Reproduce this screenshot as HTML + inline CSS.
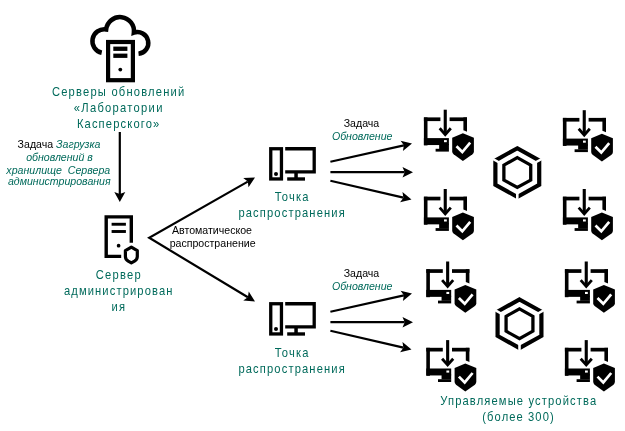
<!DOCTYPE html>
<html><head><meta charset="utf-8"><style>
html,body{margin:0;padding:0;background:#fff;}
body{width:625px;height:431px;overflow:hidden;}
svg{display:block;will-change:transform;}
text{font-family:"Liberation Sans",sans-serif;}
</style></head><body>
<svg width="625" height="431" viewBox="0 0 625 431">
<rect width="625" height="431" fill="#fff"/>
<path d="M101.72,52.80 A11.9,11.9 0 0 1 106.16,29.43 A13.95,13.95 0 0 1 133.87,32.69 A10.9,10.9 0 1 1 138.54,53.84" fill="none" stroke="#000" stroke-width="4.5" stroke-linejoin="miter"/><rect x="108.1" y="42" width="24.8" height="38.2" fill="none" stroke="#000" stroke-width="4.2"/><rect x="113.3" y="46.6" width="14.1" height="4.3" fill="#000"/><rect x="113.3" y="53.6" width="14.1" height="4.3" fill="#000"/><circle cx="120.3" cy="69.6" r="1.9" fill="#000"/><path d="M131.3,242.7 V216.9 H106.2 V256.35 H121.2" fill="none" stroke="#000" stroke-width="3.4"/><rect x="111.6" y="222.8" width="14.3" height="2.9" fill="#000"/><rect x="111.6" y="230.05" width="14.3" height="2.9" fill="#000"/><circle cx="118.6" cy="245.7" r="1.85" fill="#000"/><path d="M131.35,247.1 L137.3,250.6 V256.5 Q137.3,259.5 134.5,261.2 L131.35,262.9 L128.2,261.2 Q125.4,259.5 125.4,256.5 V250.6 Z" fill="none" stroke="#000" stroke-width="3.2" stroke-linejoin="round"/><line x1="119.8" y1="132" x2="119.80" y2="194.00" stroke="#000" stroke-width="2.2"/><polygon points="119.80,202.00 114.30,192.00 119.80,194.00 125.30,192.00" fill="#000"/><polyline points="247.79,181.61 149.2,237.8 247.89,297.22" fill="none" stroke="#000" stroke-width="2.2" stroke-miterlimit="10"/><polygon points="255.00,177.50 248.50,187.30 247.79,181.61 243.25,178.09" fill="#000"/><polygon points="255.00,301.50 243.27,300.62 247.89,297.22 248.74,291.54" fill="#000"/><line x1="330.4" y1="161.8" x2="403.90" y2="145.32" stroke="#000" stroke-width="2.2"/><polygon points="412.00,143.50 402.91,150.97 403.90,145.32 400.59,140.63" fill="#000"/><line x1="330.4" y1="172.2" x2="404.70" y2="172.20" stroke="#000" stroke-width="2.2"/><polygon points="413.00,172.20 402.50,177.50 404.70,172.20 402.50,166.90" fill="#000"/><line x1="330.4" y1="180.8" x2="403.41" y2="197.64" stroke="#000" stroke-width="2.2"/><polygon points="411.50,199.50 400.08,202.31 403.41,197.64 402.46,191.98" fill="#000"/><line x1="330.4" y1="311.8" x2="403.90" y2="295.32" stroke="#000" stroke-width="2.2"/><polygon points="412.00,293.50 402.91,300.97 403.90,295.32 400.59,290.63" fill="#000"/><line x1="330.4" y1="322.2" x2="404.70" y2="322.20" stroke="#000" stroke-width="2.2"/><polygon points="413.00,322.20 402.50,327.50 404.70,322.20 402.50,316.90" fill="#000"/><line x1="330.4" y1="330.8" x2="403.41" y2="347.64" stroke="#000" stroke-width="2.2"/><polygon points="411.50,349.50 400.08,352.31 403.41,347.64 402.46,341.98" fill="#000"/><g transform="translate(0.0,0.0)"><rect x="270.75" y="148.75" width="10.7" height="30.2" fill="none" stroke="#000" stroke-width="3.3"/><circle cx="276" cy="174" r="2" fill="#000"/><path d="M285.2,148.75 H314.2 V171.9 H285.2" fill="none" stroke="#000" stroke-width="3.3"/><rect x="294.3" y="173" width="3.5" height="5" fill="#000"/><rect x="287.2" y="177.3" width="17.8" height="3.35" fill="#000"/></g><g transform="translate(0.0,155.00000000000003)"><rect x="270.75" y="148.75" width="10.7" height="30.2" fill="none" stroke="#000" stroke-width="3.3"/><circle cx="276" cy="174" r="2" fill="#000"/><path d="M285.2,148.75 H314.2 V171.9 H285.2" fill="none" stroke="#000" stroke-width="3.3"/><rect x="294.3" y="173" width="3.5" height="5" fill="#000"/><rect x="287.2" y="177.3" width="17.8" height="3.35" fill="#000"/></g><g transform="translate(0.0,0.0)"><rect x="443.7" y="109.7" width="3.1" height="24" fill="#000"/><polyline points="439.7,128.3 445.25,134.6 450.8,128.3" fill="none" stroke="#000" stroke-width="2.8"/><rect x="423.9" y="117.4" width="16.5" height="3.7" fill="#000"/><rect x="449.6" y="117.4" width="17.4" height="3.7" fill="#000"/><rect x="423.9" y="117.4" width="3.6" height="28" fill="#000"/><rect x="463.4" y="117.4" width="3.6" height="20" fill="#000"/><rect x="423.9" y="138.1" width="25" height="6.95" fill="#000"/><rect x="439.15" y="144" width="9.75" height="5" fill="#000"/><rect x="435.6" y="148.8" width="13.3" height="2.8" fill="#000"/><rect x="444" y="140.1" width="2.8" height="2.1" fill="#fff"/><path d="M462.9,133.2 L473.9,137.7 V151.4 Q473.9,153 472.5,154.3 L462.9,161 L453.6,154.3 Q452.2,153 452.2,151.4 V137.7 Z" fill="#000" stroke="#fff" stroke-width="6" paint-order="stroke" stroke-linejoin="round"/><polyline points="456.5,146.2 462.3,152.0 470.2,142.6" fill="none" stroke="#fff" stroke-width="2.7"/></g><g transform="translate(139.0,0.5)"><rect x="443.7" y="109.7" width="3.1" height="24" fill="#000"/><polyline points="439.7,128.3 445.25,134.6 450.8,128.3" fill="none" stroke="#000" stroke-width="2.8"/><rect x="423.9" y="117.4" width="16.5" height="3.7" fill="#000"/><rect x="449.6" y="117.4" width="17.4" height="3.7" fill="#000"/><rect x="423.9" y="117.4" width="3.6" height="28" fill="#000"/><rect x="463.4" y="117.4" width="3.6" height="20" fill="#000"/><rect x="423.9" y="138.1" width="25" height="6.95" fill="#000"/><rect x="439.15" y="144" width="9.75" height="5" fill="#000"/><rect x="435.6" y="148.8" width="13.3" height="2.8" fill="#000"/><rect x="444" y="140.1" width="2.8" height="2.1" fill="#fff"/><path d="M462.9,133.2 L473.9,137.7 V151.4 Q473.9,153 472.5,154.3 L462.9,161 L453.6,154.3 Q452.2,153 452.2,151.4 V137.7 Z" fill="#000" stroke="#fff" stroke-width="6" paint-order="stroke" stroke-linejoin="round"/><polyline points="456.5,146.2 462.3,152.0 470.2,142.6" fill="none" stroke="#fff" stroke-width="2.7"/></g><g transform="translate(0.0,79.3)"><rect x="443.7" y="109.7" width="3.1" height="24" fill="#000"/><polyline points="439.7,128.3 445.25,134.6 450.8,128.3" fill="none" stroke="#000" stroke-width="2.8"/><rect x="423.9" y="117.4" width="16.5" height="3.7" fill="#000"/><rect x="449.6" y="117.4" width="17.4" height="3.7" fill="#000"/><rect x="423.9" y="117.4" width="3.6" height="28" fill="#000"/><rect x="463.4" y="117.4" width="3.6" height="20" fill="#000"/><rect x="423.9" y="138.1" width="25" height="6.95" fill="#000"/><rect x="439.15" y="144" width="9.75" height="5" fill="#000"/><rect x="435.6" y="148.8" width="13.3" height="2.8" fill="#000"/><rect x="444" y="140.1" width="2.8" height="2.1" fill="#fff"/><path d="M462.9,133.2 L473.9,137.7 V151.4 Q473.9,153 472.5,154.3 L462.9,161 L453.6,154.3 Q452.2,153 452.2,151.4 V137.7 Z" fill="#000" stroke="#fff" stroke-width="6" paint-order="stroke" stroke-linejoin="round"/><polyline points="456.5,146.2 462.3,152.0 470.2,142.6" fill="none" stroke="#fff" stroke-width="2.7"/></g><g transform="translate(139.0,79.3)"><rect x="443.7" y="109.7" width="3.1" height="24" fill="#000"/><polyline points="439.7,128.3 445.25,134.6 450.8,128.3" fill="none" stroke="#000" stroke-width="2.8"/><rect x="423.9" y="117.4" width="16.5" height="3.7" fill="#000"/><rect x="449.6" y="117.4" width="17.4" height="3.7" fill="#000"/><rect x="423.9" y="117.4" width="3.6" height="28" fill="#000"/><rect x="463.4" y="117.4" width="3.6" height="20" fill="#000"/><rect x="423.9" y="138.1" width="25" height="6.95" fill="#000"/><rect x="439.15" y="144" width="9.75" height="5" fill="#000"/><rect x="435.6" y="148.8" width="13.3" height="2.8" fill="#000"/><rect x="444" y="140.1" width="2.8" height="2.1" fill="#fff"/><path d="M462.9,133.2 L473.9,137.7 V151.4 Q473.9,153 472.5,154.3 L462.9,161 L453.6,154.3 Q452.2,153 452.2,151.4 V137.7 Z" fill="#000" stroke="#fff" stroke-width="6" paint-order="stroke" stroke-linejoin="round"/><polyline points="456.5,146.2 462.3,152.0 470.2,142.6" fill="none" stroke="#fff" stroke-width="2.7"/></g><g transform="translate(2.400000000000034,151.8)"><rect x="443.7" y="109.7" width="3.1" height="24" fill="#000"/><polyline points="439.7,128.3 445.25,134.6 450.8,128.3" fill="none" stroke="#000" stroke-width="2.8"/><rect x="423.9" y="117.4" width="16.5" height="3.7" fill="#000"/><rect x="449.6" y="117.4" width="17.4" height="3.7" fill="#000"/><rect x="423.9" y="117.4" width="3.6" height="28" fill="#000"/><rect x="463.4" y="117.4" width="3.6" height="20" fill="#000"/><rect x="423.9" y="138.1" width="25" height="6.95" fill="#000"/><rect x="439.15" y="144" width="9.75" height="5" fill="#000"/><rect x="435.6" y="148.8" width="13.3" height="2.8" fill="#000"/><rect x="444" y="140.1" width="2.8" height="2.1" fill="#fff"/><path d="M462.9,133.2 L473.9,137.7 V151.4 Q473.9,153 472.5,154.3 L462.9,161 L453.6,154.3 Q452.2,153 452.2,151.4 V137.7 Z" fill="#000" stroke="#fff" stroke-width="6" paint-order="stroke" stroke-linejoin="round"/><polyline points="456.5,146.2 462.3,152.0 470.2,142.6" fill="none" stroke="#fff" stroke-width="2.7"/></g><g transform="translate(141.0,151.8)"><rect x="443.7" y="109.7" width="3.1" height="24" fill="#000"/><polyline points="439.7,128.3 445.25,134.6 450.8,128.3" fill="none" stroke="#000" stroke-width="2.8"/><rect x="423.9" y="117.4" width="16.5" height="3.7" fill="#000"/><rect x="449.6" y="117.4" width="17.4" height="3.7" fill="#000"/><rect x="423.9" y="117.4" width="3.6" height="28" fill="#000"/><rect x="463.4" y="117.4" width="3.6" height="20" fill="#000"/><rect x="423.9" y="138.1" width="25" height="6.95" fill="#000"/><rect x="439.15" y="144" width="9.75" height="5" fill="#000"/><rect x="435.6" y="148.8" width="13.3" height="2.8" fill="#000"/><rect x="444" y="140.1" width="2.8" height="2.1" fill="#fff"/><path d="M462.9,133.2 L473.9,137.7 V151.4 Q473.9,153 472.5,154.3 L462.9,161 L453.6,154.3 Q452.2,153 452.2,151.4 V137.7 Z" fill="#000" stroke="#fff" stroke-width="6" paint-order="stroke" stroke-linejoin="round"/><polyline points="456.5,146.2 462.3,152.0 470.2,142.6" fill="none" stroke="#fff" stroke-width="2.7"/></g><g transform="translate(2.400000000000034,230.40000000000003)"><rect x="443.7" y="109.7" width="3.1" height="24" fill="#000"/><polyline points="439.7,128.3 445.25,134.6 450.8,128.3" fill="none" stroke="#000" stroke-width="2.8"/><rect x="423.9" y="117.4" width="16.5" height="3.7" fill="#000"/><rect x="449.6" y="117.4" width="17.4" height="3.7" fill="#000"/><rect x="423.9" y="117.4" width="3.6" height="28" fill="#000"/><rect x="463.4" y="117.4" width="3.6" height="20" fill="#000"/><rect x="423.9" y="138.1" width="25" height="6.95" fill="#000"/><rect x="439.15" y="144" width="9.75" height="5" fill="#000"/><rect x="435.6" y="148.8" width="13.3" height="2.8" fill="#000"/><rect x="444" y="140.1" width="2.8" height="2.1" fill="#fff"/><path d="M462.9,133.2 L473.9,137.7 V151.4 Q473.9,153 472.5,154.3 L462.9,161 L453.6,154.3 Q452.2,153 452.2,151.4 V137.7 Z" fill="#000" stroke="#fff" stroke-width="6" paint-order="stroke" stroke-linejoin="round"/><polyline points="456.5,146.2 462.3,152.0 470.2,142.6" fill="none" stroke="#fff" stroke-width="2.7"/></g><g transform="translate(141.0,230.40000000000003)"><rect x="443.7" y="109.7" width="3.1" height="24" fill="#000"/><polyline points="439.7,128.3 445.25,134.6 450.8,128.3" fill="none" stroke="#000" stroke-width="2.8"/><rect x="423.9" y="117.4" width="16.5" height="3.7" fill="#000"/><rect x="449.6" y="117.4" width="17.4" height="3.7" fill="#000"/><rect x="423.9" y="117.4" width="3.6" height="28" fill="#000"/><rect x="463.4" y="117.4" width="3.6" height="20" fill="#000"/><rect x="423.9" y="138.1" width="25" height="6.95" fill="#000"/><rect x="439.15" y="144" width="9.75" height="5" fill="#000"/><rect x="435.6" y="148.8" width="13.3" height="2.8" fill="#000"/><rect x="444" y="140.1" width="2.8" height="2.1" fill="#fff"/><path d="M462.9,133.2 L473.9,137.7 V151.4 Q473.9,153 472.5,154.3 L462.9,161 L453.6,154.3 Q452.2,153 452.2,151.4 V137.7 Z" fill="#000" stroke="#fff" stroke-width="6" paint-order="stroke" stroke-linejoin="round"/><polyline points="456.5,146.2 462.3,152.0 470.2,142.6" fill="none" stroke="#fff" stroke-width="2.7"/></g><g transform="translate(517.3,172.55) scale(1,0.962) translate(-517.3,-172.55)"><polygon points="517.30,147.25 539.21,159.90 539.21,185.20 517.30,197.85 495.39,185.20 495.39,159.90" fill="none" stroke="#000" stroke-width="4.2" stroke-linejoin="miter"/><line x1="534.88" y1="162.40" x2="544.41" y2="156.90" stroke="#fff" stroke-width="2.6"/><line x1="517.30" y1="192.85" x2="517.30" y2="203.85" stroke="#fff" stroke-width="2.6"/><line x1="499.72" y1="162.40" x2="490.19" y2="156.90" stroke="#fff" stroke-width="2.6"/><polygon points="517.30,157.05 530.72,164.80 530.72,180.30 517.30,188.05 503.88,180.30 503.88,164.80" fill="none" stroke="#000" stroke-width="3.3"/></g><g transform="translate(519.5,323.75) scale(1,0.962) translate(-519.5,-323.75)"><polygon points="519.50,298.45 541.41,311.10 541.41,336.40 519.50,349.05 497.59,336.40 497.59,311.10" fill="none" stroke="#000" stroke-width="4.2" stroke-linejoin="miter"/><line x1="537.08" y1="313.60" x2="546.61" y2="308.10" stroke="#fff" stroke-width="2.6"/><line x1="519.50" y1="344.05" x2="519.50" y2="355.05" stroke="#fff" stroke-width="2.6"/><line x1="501.92" y1="313.60" x2="492.39" y2="308.10" stroke="#fff" stroke-width="2.6"/><polygon points="519.50,308.25 532.92,316.00 532.92,331.50 519.50,339.25 506.08,331.50 506.08,316.00" fill="none" stroke="#000" stroke-width="3.3"/></g>
<g transform="translate(118.1,0) scale(0.86,1) translate(-118.1,0)"><text x="118.80" y="96" font-size="13" fill="#006a5b" text-anchor="middle" letter-spacing="1.40" >Серверы обновлений</text></g><g transform="translate(118.1,0) scale(0.86,1) translate(-118.1,0)"><text x="118.85" y="112" font-size="13" fill="#006a5b" text-anchor="middle" letter-spacing="1.50" >«Лаборатории</text></g><g transform="translate(118.1,0) scale(0.86,1) translate(-118.1,0)"><text x="118.77" y="128" font-size="13" fill="#006a5b" text-anchor="middle" letter-spacing="1.33" >Касперского»</text></g><g transform="translate(118.2,0) scale(0.86,1) translate(-118.2,0)"><text x="118.92" y="279" font-size="13" fill="#006a5b" text-anchor="middle" letter-spacing="1.45" >Сервер</text></g><g transform="translate(118.2,0) scale(0.86,1) translate(-118.2,0)"><text x="118.85" y="295" font-size="13" fill="#006a5b" text-anchor="middle" letter-spacing="1.30" >администрирован</text></g><g transform="translate(118.2,0) scale(0.86,1) translate(-118.2,0)"><text x="118.90" y="311" font-size="13" fill="#006a5b" text-anchor="middle" letter-spacing="1.40" >ия</text></g><g transform="translate(291.6,0) scale(0.86,1) translate(-291.6,0)"><text x="292.26" y="201" font-size="13" fill="#006a5b" text-anchor="middle" letter-spacing="1.32" >Точка</text></g><g transform="translate(291.6,0) scale(0.86,1) translate(-291.6,0)"><text x="292.26" y="217" font-size="13" fill="#006a5b" text-anchor="middle" letter-spacing="1.32" >распространения</text></g><g transform="translate(291.6,0) scale(0.86,1) translate(-291.6,0)"><text x="292.26" y="357" font-size="13" fill="#006a5b" text-anchor="middle" letter-spacing="1.32" >Точка</text></g><g transform="translate(291.6,0) scale(0.86,1) translate(-291.6,0)"><text x="292.26" y="373" font-size="13" fill="#006a5b" text-anchor="middle" letter-spacing="1.32" >распространения</text></g><g transform="translate(518.2,0) scale(0.86,1) translate(-518.2,0)"><text x="518.86" y="405.5" font-size="13" fill="#006a5b" text-anchor="middle" letter-spacing="1.32" >Управляемые устройства</text></g><g transform="translate(518.0,0) scale(0.86,1) translate(-518.0,0)"><text x="518.64" y="421" font-size="13" fill="#006a5b" text-anchor="middle" letter-spacing="1.27" >(более 300)</text></g><text x="59" y="148" font-size="10.6" text-anchor="middle"><tspan fill="#000">Задача </tspan><tspan fill="#006a5b" font-style="italic">Загрузка</tspan></text><text x="59.5" y="160.5" font-size="10.6" fill="#006a5b" text-anchor="middle" font-style="italic">обновлений в</text><text x="58.3" y="173.5" font-size="10.6" fill="#006a5b" text-anchor="middle" font-style="italic" xml:space="preserve">хранилище  Сервера</text><text x="59.3" y="185" font-size="10.6" fill="#006a5b" text-anchor="middle" font-style="italic">администрирования</text><text x="212" y="234" font-size="10.6" fill="#000" text-anchor="middle" >Автоматическое</text><text x="212.6" y="247" font-size="10.6" fill="#000" text-anchor="middle" >распространение</text><text x="361.5" y="127" font-size="10.6" fill="#000" text-anchor="middle" >Задача</text><text x="362.2" y="139.6" font-size="10.6" fill="#006a5b" text-anchor="middle" font-style="italic">Обновление</text><text x="361.5" y="277" font-size="10.6" fill="#000" text-anchor="middle" >Задача</text><text x="362.2" y="289.6" font-size="10.6" fill="#006a5b" text-anchor="middle" font-style="italic">Обновление</text>
</svg>
</body></html>
